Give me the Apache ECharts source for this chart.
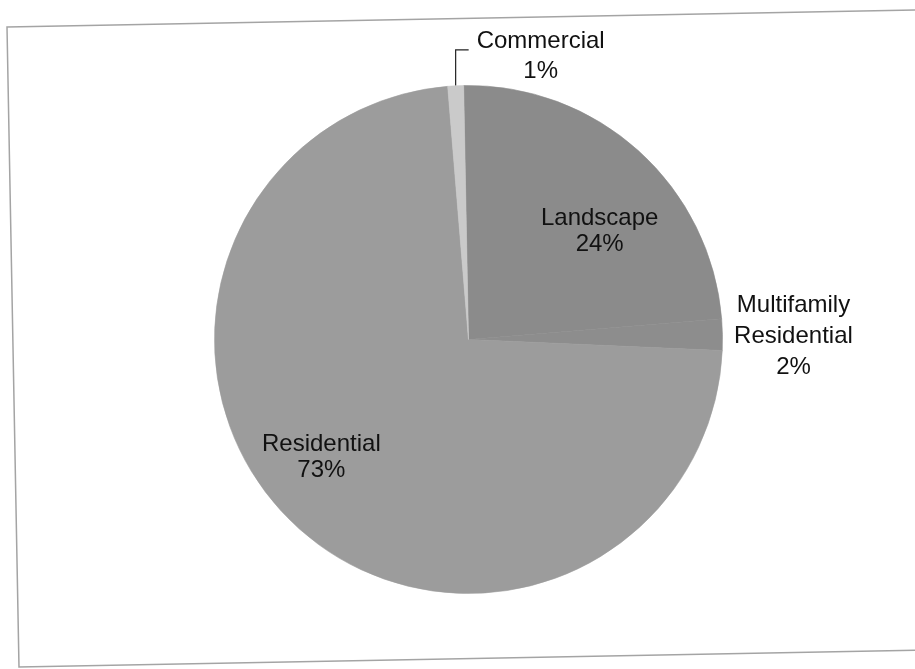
<!DOCTYPE html>
<html>
<head>
<meta charset="utf-8">
<script src="https://cdn.jsdelivr.net/npm/echarts@6/dist/echarts.min.js"></script>
<style>
  html, body { margin: 0; padding: 0; background: #ffffff; }
  #chart { width: 915px; height: 669px; }
</style>
</head>
<body>
<div id="chart"></div>
<script>
// Water use share by customer class
const categories = ['Landscape', 'Multifamily\nResidential', 'Residential', 'Commercial'];
const shares = [24, 2, 73, 1];
const sliceColors = ['#8b8b8b', '#8d8d8d', '#9c9c9c', '#cacaca'];
// label nudges from the default inside spot, per slice
const labelOffsets = [[44, -12], [195, -1], [-57, 24], [0, 0]];
const labelLineHeights = [26, 31, 26, 30];

const chart = echarts.init(document.getElementById('chart'));

const pieData = categories.map((name, i) => {
  const item = {
    name: name,
    value: shares[i],
    itemStyle: { color: sliceColors[i], borderColor: sliceColors[i], borderWidth: 0.6 }
  };
  if (name === 'Commercial') {
    item.label = { position: 'outside', lineHeight: labelLineHeights[i] };
    item.labelLine = { show: true, lineStyle: { color: '#222', width: 1.2 } };
  } else {
    item.label = { position: 'inside', offset: labelOffsets[i], lineHeight: labelLineHeights[i] };
    item.labelLine = { show: false };
  }
  return item;
});

chart.setOption({
  backgroundColor: '#ffffff',
  animation: false,
  graphic: [{
    type: 'polygon',
    shape: { points: [[7, 27], [940, 9.5], [952, 649.5], [19, 667]] },
    style: { fill: 'none', stroke: '#a4a4a4', lineWidth: 1.5 },
    silent: true
  }],
  series: [{
    type: 'pie',
    center: [468.5, 339.5],
    radius: 254,
    startAngle: 91.1,
    clockwise: true,
    avoidLabelOverlap: false,
    label: {
      show: true,
      formatter: '{b}\n{d}%',
      color: '#111111',
      fontFamily: '"Liberation Sans", Arial, sans-serif',
      fontSize: 24,
      align: 'center'
    },
    labelLayout: function (params) {
      if (params.dataIndex !== 3 || !params.labelLinePoints) return {};
      const p0 = params.labelLinePoints[0];
      const elbowY = p0[1] - 36;
      return {
        x: p0[0] + 85,
        y: p0[1] - 29,
        align: 'center',
        verticalAlign: 'middle',
        labelLinePoints: [[p0[0], p0[1]], [p0[0], elbowY], [p0[0] + 13, elbowY]]
      };
    },
    data: pieData
  }]
});
</script>
</body>
</html>
